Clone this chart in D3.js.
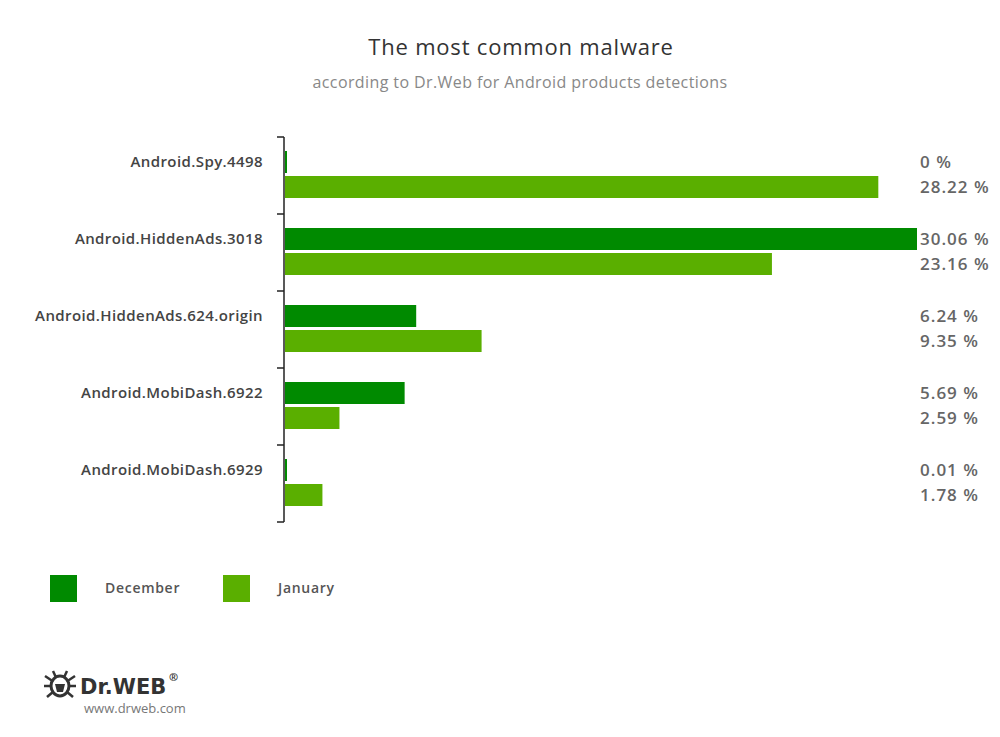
<!DOCTYPE html>
<html>
<head>
<meta charset="utf-8">
<script src="https://cdn.jsdelivr.net/npm/d3@7"></script>
<style>
  body { margin: 0; background: #fff; }
  text { font-family: "Open Sans", "Noto Sans", sans-serif; }
</style>
</head>
<body>
<div id="chart"></div>
<script>
// Chart data
const categories = ["Android.Spy.4498", "Android.HiddenAds.3018", "Android.HiddenAds.624.origin",
                    "Android.MobiDash.6922", "Android.MobiDash.6929"];
const december = [0, 30.06, 6.24, 5.69, 0.01];
const january = [28.22, 23.16, 9.35, 2.59, 1.78];
const seriesNames = ["December", "January"];
const colors = ["#008a00", "#5aaf00"];

const width = 1000, height = 737;

const svg = d3.select("#chart").append("svg")
    .attr("width", width)
    .attr("height", height);

// Titles
svg.append("text")
    .attr("x", 521).attr("y", 55)
    .attr("text-anchor", "middle")
    .style("font-size", "22px")
    .style("letter-spacing", "0.8px")
    .style("fill", "#333")
    .text("The most common malware");

svg.append("text")
    .attr("x", 520).attr("y", 88)
    .attr("text-anchor", "middle")
    .style("font-size", "16px")
    .style("letter-spacing", "0.4px")
    .style("fill", "#888")
    .text("according to Dr.Web for Android products detections");

// Scales
const x = d3.scaleLinear().domain([0, 30.06]).range([285, 917]);
const y = d3.scaleBand().domain(categories).range([137, 522]);

// Axis line with ticks at band boundaries
const axisX = 284;
svg.append("line")
    .attr("x1", axisX).attr("x2", axisX)
    .attr("y1", y.range()[0]).attr("y2", y.range()[1])
    .attr("stroke", "#222").attr("stroke-width", 1.5);

const tickYs = categories.map(c => y(c)).concat([y.range()[1]]);
svg.selectAll("line.tick")
    .data(tickYs)
  .join("line")
    .attr("class", "tick")
    .attr("x1", axisX - 7).attr("x2", axisX)
    .attr("y1", d => d).attr("y2", d => d)
    .attr("stroke", "#222").attr("stroke-width", 1.5);

// Bars
const rows = categories.map((c, i) => ({ cat: c, vals: [december[i], january[i]] }));
const barH = 22, barOff = [14, 39];

const group = svg.selectAll("g.row")
    .data(rows)
  .join("g")
    .attr("class", "row")
    .attr("transform", d => `translate(0,${y(d.cat)})`);

group.selectAll("rect")
    .data(d => d.vals.map((v, k) => ({ v, k })))
  .join("rect")
    .attr("x", x(0))
    .attr("y", d => barOff[d.k])
    .attr("height", barH)
    .attr("width", d => Math.max(2, x(d.v) - x(0)))
    .attr("fill", d => colors[d.k]);

// Value labels
group.selectAll("text.val")
    .data(d => d.vals.map((v, k) => ({ v, k })))
  .join("text")
    .attr("class", "val")
    .attr("x", 920)
    .attr("y", d => barOff[d.k] + barH / 2)
    .attr("dy", "0.35em")
    .style("font-size", "17px")
    .style("font-weight", "600")
    .style("letter-spacing", "1px")
    .style("fill", "#666")
    .text(d => (d.v === 0 ? "0" : d.v.toFixed(2)) + " %");

// Category labels
group.append("text")
    .attr("x", 263)
    .attr("y", barOff[0] + barH / 2)
    .attr("dy", "0.35em")
    .attr("text-anchor", "end")
    .style("font-size", "15px")
    .style("font-weight", "600")
    .style("letter-spacing", "0.4px")
    .style("fill", "#444")
    .text(d => d.cat);

// Legend
const legendX = [50, 223];
const legend = svg.selectAll("g.legend")
    .data(seriesNames)
  .join("g")
    .attr("class", "legend")
    .attr("transform", (d, i) => `translate(${legendX[i]},575)`);

legend.append("rect")
    .attr("width", 27).attr("height", 27)
    .attr("fill", (d, i) => colors[i]);

legend.append("text")
    .attr("x", 55).attr("y", 13.5)
    .attr("dy", "0.35em")
    .style("font-size", "14px")
    .style("font-weight", "600")
    .style("letter-spacing", "0.7px")
    .style("fill", "#555")
    .text(d => d);

// Logo
const logo = svg.append("g").attr("transform", "translate(45,671)");
// simple bug icon
[[0, 5], [-1, 15], [2, 26], [30, 5], [31, 15], [28, 26], [8, 0], [22, 0]].forEach(p => {
    logo.append("line").attr("x1", 15).attr("y1", 15).attr("x2", p[0]).attr("y2", p[1])
        .attr("stroke", "#333").attr("stroke-width", 2.5);
});
logo.append("ellipse").attr("cx", 15).attr("cy", 15).attr("rx", 9).attr("ry", 10)
    .attr("fill", "#fff").attr("stroke", "#333").attr("stroke-width", 3);
logo.append("path").attr("d", "M10 13 L20 13 L18 21 L12 21 Z").attr("fill", "#333");

logo.append("text")
    .attr("x", 35).attr("y", 23)
    .style("font-family", "'DejaVu Sans', sans-serif")
    .style("font-size", "21px")
    .style("font-weight", "bold")
    .style("fill", "#333")
    .text("Dr.WEB");
logo.append("text")
    .attr("x", 124).attr("y", 10)
    .style("font-size", "11px")
    .style("font-weight", "bold")
    .style("fill", "#333")
    .text("®");
svg.append("text")
    .attr("x", 84).attr("y", 713)
    .style("font-size", "13px")
    .style("fill", "#777")
    .text("www.drweb.com");
</script>
</body>
</html>
